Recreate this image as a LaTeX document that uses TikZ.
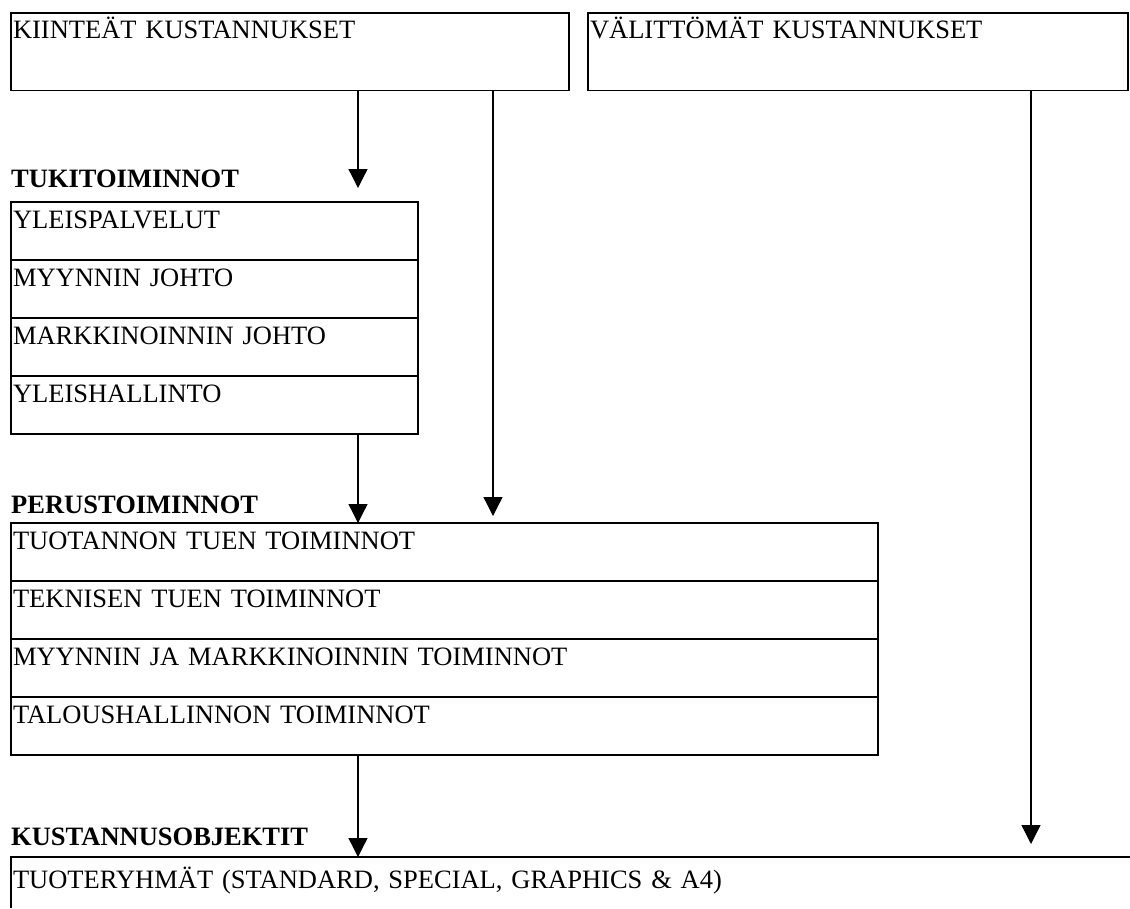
\documentclass[tikz,border=0pt]{standalone}
\usepackage{fontspec}
\setmainfont{Liberation Serif}
\usetikzlibrary{arrows.meta}
\begin{document}
\begin{tikzpicture}[x=1pt,y=-1pt,
  font=\fontsize{26.5}{30}\selectfont,
  cell/.style={draw, line width=1.6pt, anchor=north west, inner xsep=2pt,
    inner ysep=0pt, outer sep=0pt, align=left, text height=26pt, text depth=32pt,
    minimum height=58pt},
  tukicell/.style={cell, minimum width=407pt, text width=403pt},
  peruscell/.style={cell, minimum width=867pt, text width=863pt},
  topcell/.style={cell, text height=25pt, text depth=52.5pt, minimum height=77.5pt},
  head/.style={font=\fontsize{26.5}{30}\selectfont\bfseries, anchor=base west, inner sep=0pt},
  arr/.style={line width=1.3pt, -{Triangle[width=19pt,length=19pt]}}
]
\useasboundingbox (0,0) rectangle (1130,908);

% columns of the vertical connectors
\coordinate (colA) at (358,0);
\coordinate (colB) at (493,0);
\coordinate (colC) at (1031,0);

% cost sources
\node[topcell, minimum width=558pt, text width=554pt] (kk) at (11,13) {KIINTEÄT KUSTANNUKSET};
\node[topcell, minimum width=540pt, text width=536pt] (vk) at (588,13) {VÄLITTÖMÄT KUSTANNUKSET};

% support functions
\node[head] (lbltuki) at (11,187) {TUKITOIMINNOT};
\node[tukicell] (tk1) at (11,202) {YLEISPALVELUT};
\node[tukicell] (tk2) at (tk1.south west) {MYYNNIN JOHTO};
\node[tukicell] (tk3) at (tk2.south west) {MARKKINOINNIN JOHTO};
\node[tukicell] (tk4) at (tk3.south west) {YLEISHALLINTO};

% primary functions
\node[head] (lblperus) at (11,513) {PERUSTOIMINNOT};
\node[peruscell] (pt1) at (11,523) {TUOTANNON TUEN TOIMINNOT};
\node[peruscell] (pt2) at (pt1.south west) {TEKNISEN TUEN TOIMINNOT};
\node[peruscell] (pt3) at (pt2.south west) {MYYNNIN JA MARKKINOINNIN TOIMINNOT};
\node[peruscell] (pt4) at (pt3.south west) {TALOUSHALLINNON TOIMINNOT};

% cost objects
\node[head] (lblkust) at (11,845) {KUSTANNUSOBJEKTIT};
\node[cell, draw=none, minimum width=1119pt, text width=1115pt, minimum height=51pt,
      text height=31pt, text depth=20pt] (prod) at (11,857)
      {TUOTERYHMÄT (STANDARD, SPECIAL, GRAPHICS \& A4)};
\draw[line width=1.6pt] (prod.north east) -- (prod.north west) -- (prod.south west);

% connectors
\draw[arr, shorten >=14pt] (kk.south -| colA) -- (tk1.north -| colA);
\draw[arr, shorten >=7pt] (kk.south -| colB) -- (pt1.north -| colB);
\draw[arr, shorten >=13pt] (vk.south -| colC) -- (prod.north -| colC);
\draw[arr] (tk4.south -| colA) -- (pt1.north -| colA);
\draw[arr] (pt4.south -| colA) -- (prod.north -| colA);
\end{tikzpicture}
\end{document}
